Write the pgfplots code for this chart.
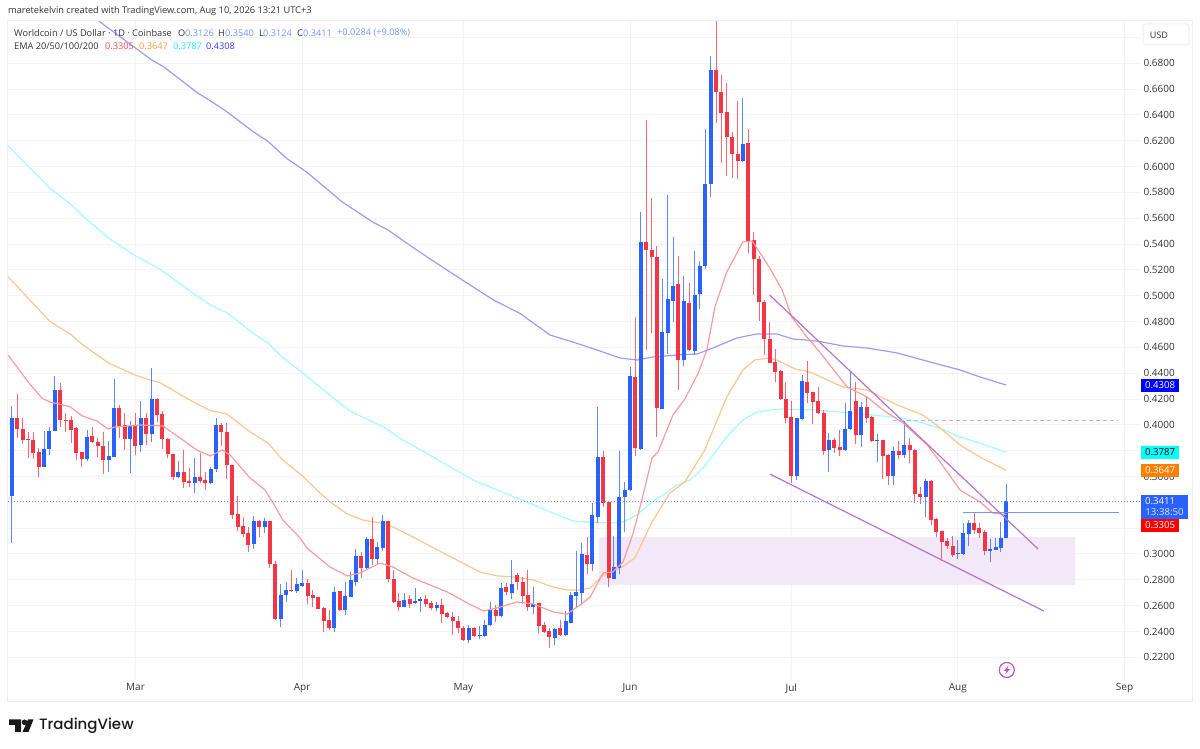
\documentclass[border=0pt]{standalone}
\usepackage{fontspec}
\setmainfont{Open Sans}
\newfontfamily\logofont{Poppins Medium}
\usepackage{pgfplots}
\usepackage{pgfplotstable}
\pgfplotsset{compat=1.18}

\definecolor{upc}{HTML}{2962FF}
\definecolor{dnc}{HTML}{F23645}
\definecolor{gridc}{HTML}{F4F4F4}
\definecolor{framec}{HTML}{EEEEEE}
\definecolor{txt}{HTML}{303338}
\definecolor{ema20}{HTML}{FB9C9C}
\definecolor{ema50}{HTML}{FFC590}
\definecolor{ema100}{HTML}{A5FBFB}
\definecolor{ema200}{HTML}{9C9CF6}
\definecolor{trend}{HTML}{B774CE}
\definecolor{zone}{HTML}{F3E8F7}
\definecolor{lvl}{HTML}{6F97FF}
\definecolor{lvlpale}{HTML}{A6C0FF}
\definecolor{tagblue}{HTML}{0000FF}
\definecolor{tagcyan}{HTML}{00FFFF}
\definecolor{tagorange}{HTML}{FF8000}
\definecolor{tagred}{HTML}{FF0000}
\definecolor{lgred}{HTML}{FF4A4A}
\definecolor{lgorange}{HTML}{FF9A40}
\definecolor{lgcyan}{HTML}{20E8FF}
\definecolor{lgblue}{HTML}{3A3AFF}
\definecolor{bolt}{HTML}{B855C8}

% day 0 = 1 March, o h l c in USD
\pgfplotstableread{
d o h l c
-23 .3452 .4146 .3082 .4051
-17 .3676 .3952 .3676 .3813
-16 .3810 .3981 .3767 .3952
-15 .3952 .4381 .3952 .4270
-9 .3736 .3960 .3720 .3903
-5 .3725 .3875 .3637 .3756
-4 .3748 .4353 .3748 .4131
-1 .3890 .4030 .3625 .3989
1 .3841 .4185 .3792 .4051
3 .3927 .4438 .3865 .4203
8 .3596 .3723 .3588 .3635
11 .3552 .3741 .3470 .3594
14 .3552 .3671 .3539 .3661
15 .3658 .4051 .3637 .3996
22 .3077 .3297 .3039 .3253
24 .3212 .3276 .3160 .3253
27 .2494 .2765 .2437 .2682
28 .2682 .2780 .2631 .2721
30 .2713 .2811 .2700 .2765
31 .2752 .2876 .2747 .2778
37 .2424 .2747 .2398 .2703
39 .2566 .2783 .2527 .2672
40 .2669 .2863 .2664 .2796
41 .2786 .3036 .2752 .2984
43 .2889 .3129 .2881 .3116
45 .2961 .3090 .2922 .3051
46 .3044 .3302 .3026 .3253
50 .2587 .2695 .2587 .2641
52 .2620 .2739 .2610 .2636
53 .2633 .2664 .2553 .2649
56 .2582 .2631 .2561 .2605
62 .2336 .2450 .2313 .2429
64 .2365 .2445 .2339 .2370
65 .2365 .2489 .2360 .2453
66 .2447 .2631 .2442 .2566
68 .2520 .2778 .2515 .2734
70 .2700 .2953 .2649 .2765
74 .2589 .2742 .2535 .2613
78 .2352 .2424 .2295 .2419
80 .2373 .2561 .2365 .2478
81 .2468 .2708 .2463 .2680
82 .2675 .3026 .2592 .2708
83 .2700 .3082 .2605 .2997
85 .2922 .3392 .2871 .3302
86 .3289 .4136 .3243 .3748
89 .2806 .3139 .2804 .2897
90 .2894 .3800 .2845 .3439
91 .3439 .3555 .3173 .3495
92 .3495 .4445 .3490 .4381
94 .3813 .5651 .3805 .5414
98 .4123 .5130 .4123 .4717
99 .4714 .5780 .4549 .4972
100 .4962 .5455 .4799 .5075
102 .4505 .5155 .4458 .4959
104 .4572 .5346 .4541 .5008
105 .5011 .5272 .4895 .5233
106 .5233 .6289 .5204 .5868
107 .5865 .6857 .5762 .6748
113 .6041 .6534 .6038 .6172
123 .3604 .4051 .3573 .4051
124 .4043 .4386 .4038 .4340
129 .3803 .3934 .3637 .3885
132 .3803 .4167 .3798 .3971
133 .3968 .4412 .3960 .4107
135 .3919 .4180 .3826 .4136
138 .3875 .3927 .3710 .3883
141 .3604 .3831 .3534 .3798
143 .3767 .4030 .3741 .3844
147 .3441 .3581 .3284 .3565
153 .2997 .3108 .2961 .3005
154 .2997 .3242 .2992 .3160
155 .3155 .3263 .3064 .3240
159 .3021 .3113 .2935 .3039
160 .3033 .3121 .3031 .3051
161 .3046 .3250 .3018 .3124
162 .3126 .3540 .3124 .3411
}\upcandles

\pgfplotstableread{
d o h l c
-24 .4076 .4076 .3452 .3452
-22 .4051 .4236 .3896 .3965
-21 .3971 .4051 .3852 .3883
-20 .3890 .3942 .3741 .3883
-19 .3880 .3942 .3736 .3785
-18 .3790 .3823 .3599 .3676
-14 .4270 .4322 .3986 .4035
-13 .4040 .4094 .3942 .4035
-12 .4038 .4071 .3857 .3963
-11 .3973 .3981 .3728 .3785
-10 .3787 .3787 .3676 .3738
-8 .3911 .3981 .3862 .3870
-7 .3867 .3896 .3748 .3834
-6 .3836 .3947 .3619 .3725
-3 .4128 .4154 .3896 .3994
-2 .3996 .4094 .3805 .3890
0 .3989 .4094 .3767 .3839
2 .4051 .4089 .3844 .3927
4 .4203 .4211 .4025 .4076
5 .4081 .4107 .3813 .3890
6 .3893 .3901 .3746 .3772
7 .3777 .3777 .3570 .3596
9 .3635 .3805 .3514 .3560
10 .3565 .3663 .3516 .3552
12 .3594 .3779 .3547 .3565
13 .3570 .3632 .3495 .3552
16 .3996 .4012 .3839 .3942
17 .3942 .4012 .3581 .3689
18 .3692 .3692 .3271 .3304
19 .3307 .3449 .3181 .3212
20 .3217 .3289 .3134 .3155
21 .3160 .3212 .3018 .3072
23 .3258 .3263 .3134 .3212
25 .3253 .3253 .2889 .2920
26 .2922 .2948 .2489 .2494
29 .2721 .2876 .2708 .2713
32 .2778 .2806 .2613 .2677
33 .2685 .2721 .2587 .2662
34 .2667 .2667 .2571 .2576
35 .2582 .2587 .2398 .2481
36 .2489 .2566 .2411 .2424
38 .2711 .2711 .2561 .2566
42 .2982 .3018 .2811 .2889
44 .3116 .3284 .2915 .2961
47 .3253 .3253 .2786 .2804
48 .2806 .2876 .2623 .2631
49 .2636 .2695 .2558 .2587
51 .2649 .2682 .2579 .2613
54 .2649 .2682 .2592 .2613
55 .2618 .2638 .2566 .2582
57 .2605 .2649 .2463 .2538
58 .2540 .2553 .2502 .2509
59 .2515 .2553 .2373 .2478
60 .2484 .2522 .2385 .2424
61 .2429 .2445 .2329 .2336
63 .2429 .2437 .2360 .2365
67 .2569 .2605 .2476 .2520
69 .2742 .2773 .2682 .2703
71 .2837 .2855 .2721 .2786
72 .2783 .2824 .2613 .2675
73 .2680 .2876 .2561 .2592
75 .2618 .2618 .2385 .2445
76 .2450 .2476 .2385 .2398
77 .2404 .2424 .2274 .2357
79 .2424 .2489 .2365 .2373
84 .2992 .3129 .2845 .2925
87 .3748 .3800 .3366 .3397
88 .3405 .3405 .2747 .2811
93 .4373 .4833 .3759 .3818
95 .5416 .6361 .4580 .5354
96 .5357 .5757 .4714 .5297
97 .5300 .5388 .3909 .4133
101 .5093 .5308 .4270 .4500
103 .4946 .5101 .4575 .4580
108 .6748 .7128 .6335 .6580
109 .6575 .6709 .6030 .6413
110 .6425 .6645 .5930 .6227
111 .6227 .6265 .5909 .6098
112 .6100 .6508 .5901 .6041
114 .6180 .6289 .5328 .5424
115 .5432 .5491 .5006 .5282
116 .5284 .5308 .4807 .4949
117 .4954 .4967 .4541 .4662
118 .4665 .4799 .4476 .4482
119 .4484 .4585 .4334 .4412
120 .4417 .4425 .4193 .4200
121 .4198 .4329 .4012 .4056
122 .4058 .4185 .3552 .3606
125 .4332 .4494 .4172 .4249
126 .4252 .4252 .4004 .4180
127 .4185 .4296 .4084 .4089
128 .4094 .4115 .3767 .3798
130 .3885 .3896 .3785 .3823
131 .3826 .3960 .3761 .3803
134 .4185 .4329 .3852 .3919
136 .4136 .4218 .4012 .4053
137 .4063 .4071 .3870 .3875
139 .3883 .3883 .3578 .3761
140 .3767 .3772 .3534 .3606
142 .3795 .3875 .3733 .3767
144 .3844 .3896 .3702 .3808
145 .3805 .3810 .3392 .3462
146 .3467 .3516 .3387 .3441
148 .3565 .3573 .3224 .3266
149 .3268 .3276 .3134 .3173
150 .3181 .3181 .2948 .3095
151 .3100 .3126 .3036 .3059
152 .3064 .3139 .2974 .2992
156 .3240 .3315 .3152 .3186
157 .3199 .3237 .3121 .3162
158 .3173 .3186 .2992 .3026
}\downcandles

\newcommand{\candles}[2]{%
  \addplot[draw=none,mark=none,forget plot,error bars/.cd,y dir=plus,y explicit,error mark=none,
    error bar style={color=#2,opacity=.75,line width=.95pt,line cap=butt}]
    table[x=d,y=l,y error plus expr=\thisrow{h}-\thisrow{l}] {#1};
  \addplot[draw=none,mark=none,forget plot,error bars/.cd,y dir=plus,y explicit,error mark=none,
    error bar style={color=#2,line width=4pt,line cap=butt}]
    table[x=d,y expr={min(\thisrow{o},\thisrow{c})},y error plus expr={abs(\thisrow{c}-\thisrow{o})}] {#1};
}

\begin{document}
\begin{tikzpicture}[x=1pt,y=1pt]
\path[use as bounding box] (0,0) rectangle (1200,749);
\begin{axis}[
  at={(8pt,69pt)},anchor=south west,
  scale only axis,width=1132pt,height=659.3pt,
  xmin=-23.72,xmax=186.88,ymin=.20241,ymax=.71299,
  axis line style={draw=none},
  major tick length=0pt,
  xtick={0,31,61,92,122,153,184},
  xticklabels={Mar,Apr,May,Jun,Jul,Aug,Sep},
  ytick={.22,.24,.26,.28,.30,.36,.40,.42,.44,.46,.48,.50,.52,.54,.56,.58,.60,.62,.64,.66,.68},
  extra y ticks={.32,.34,.38,.70},
  extra y tick labels={},
  extra y tick style={grid=major},
  yticklabel pos=right,
  yticklabel style={/pgf/number format/.cd,fixed,fixed zerofill,precision=4,assume math mode=true},
  ticklabel style={font=\fontsize{10}{12}\selectfont,text=txt},
  grid=major,
  major grid style={color=gridc,line width=1pt},
]
% demand zone
\addplot[draw=none,fill=zone,forget plot] coordinates {(86.2,.2762)(174.8,.2762)(174.8,.3132)(86.2,.3132)};

% EMA 200
\addplot[ema200,line width=1.2pt,forget plot] coordinates {(-8.5,.7190)(-6.6,.7120)(3.0,.6826)(5.2,.6774)(11.4,.6575)(13.9,.6510)(17.0,.6425)(21.9,.6270)(24.7,.6193)(28.1,.6064)(31.9,.5956)(38.4,.5728)(44.2,.5569)(47.0,.5509)(49.8,.5426)(54.8,.5285)(60.3,.5135)(66.6,.4967)(71.5,.4864)(77.1,.4696)(80.8,.4649)(86.4,.4572)(90.1,.4518)(93.3,.4502)(96.3,.4526)(100.8,.4541)(104.5,.4549)(107.4,.4595)(111.9,.4673)(115.6,.4704)(119.3,.4704)(122.3,.4665)(126.8,.4649)(131.6,.4611)(136.1,.4595)(141.7,.4557)(147.8,.4487)(153.4,.4425)(157.1,.4371)(162,.4308)};
% EMA 100
\addplot[ema100,line width=1.2pt,forget plot] coordinates {(-23.7,.6162)(-15.9,.5832)(-11.9,.5703)(-10.0,.5625)(-5.1,.5449)(-0.1,.5310)(4.6,.5205)(11.4,.4998)(14.2,.4923)(17.0,.4869)(21.9,.4709)(24.7,.4632)(27.2,.4528)(31.2,.4399)(38.4,.4154)(40.5,.4094)(46.1,.3986)(49.2,.3896)(58.5,.3676)(62.8,.3573)(67.3,.3495)(72.8,.3403)(77.7,.3317)(81.4,.3255)(84.0,.3248)(88.3,.3240)(90.7,.3248)(93.3,.3302)(96.1,.3403)(98.1,.3457)(100.8,.3534)(103.2,.3573)(105.6,.3666)(110.0,.3906)(113.0,.4038)(115.6,.4100)(118.0,.4115)(120.4,.4123)(126.8,.4115)(132.9,.4092)(137.2,.4076)(142.8,.4053)(146.5,.4014)(150.0,.3968)(153.4,.3906)(157.1,.3859)(162,.3787)};
% EMA 50
\addplot[ema50,line width=1.2pt,forget plot] coordinates {(-23.7,.5147)(-16.0,.4804)(-11.9,.4696)(-10.0,.4626)(-5.1,.4481)(-0.1,.4386)(2.1,.4355)(4.6,.4326)(9.5,.4206)(13.9,.4110)(17.0,.4084)(21.3,.3947)(24.7,.3857)(27.2,.3736)(31.2,.3599)(33.7,.3496)(36.2,.3403)(39.4,.3310)(42.3,.3263)(45.5,.3240)(47.9,.3209)(51.6,.3132)(58.0,.2992)(64.1,.2860)(67.3,.2830)(70.2,.2822)(74.0,.2799)(77.7,.2744)(80.3,.2721)(82.7,.2721)(84.6,.2737)(87.0,.2837)(88.8,.2860)(91.1,.2915)(92.9,.2969)(96.1,.3248)(99.4,.3472)(102.2,.3557)(105.9,.3805)(110.0,.4216)(113.0,.4425)(115.2,.4502)(118.0,.4518)(119.3,.4502)(122.7,.4433)(125.5,.4409)(131.6,.4293)(136.1,.4270)(141.7,.4154)(146.5,.4076)(149.7,.3976)(153.4,.3844)(157.1,.3751)(162,.3647)};

\candles{\upcandles}{upc}
\candles{\downcandles}{dnc}

% EMA 20
\addplot[ema20,line width=1.2pt,forget plot] coordinates {(-23.7,.4541)(-20.0,.4334)(-17.4,.4206)(-15.9,.4177)(-12.2,.4141)(-10.0,.4071)(-7.2,.4030)(-5.1,.3968)(-3.8,.3983)(0.8,.3999)(5.1,.3991)(8.3,.3898)(11.4,.3805)(13.9,.3759)(16.1,.3805)(17.6,.3767)(21.3,.3589)(24.1,.3495)(25.6,.3395)(27.4,.3263)(30.6,.3124)(31.9,.3046)(36.2,.2899)(39.4,.2830)(41.8,.2853)(45.5,.2930)(47.9,.2899)(51.6,.2814)(58.0,.2706)(61.7,.2621)(64.7,.2559)(67.3,.2582)(71.0,.2628)(74.0,.2613)(77.7,.2551)(80.3,.2535)(82.7,.2605)(84.6,.2667)(87.0,.2853)(88.8,.2861)(90.7,.2938)(92.6,.3163)(94.2,.3418)(96.1,.3743)(97.2,.3790)(100.0,.4076)(102.2,.4200)(104.7,.4402)(106.3,.4580)(107.8,.4913)(110.0,.5184)(113.0,.5416)(114.7,.5424)(116.7,.5300)(118.0,.5215)(120.3,.5045)(122.1,.4835)(124.9,.4681)(127.3,.4564)(132.4,.4293)(136.1,.4216)(139.1,.4115)(142.8,.4014)(147.3,.3844)(149.7,.3712)(153.4,.3495)(157.1,.3403)(159.5,.3317)(162,.3305)};

% trend lines and levels
\addplot[trend,line width=1.2pt,forget plot] coordinates {(118.0,.5005)(167.9,.3039)};
\addplot[trend,line width=1.2pt,forget plot] coordinates {(118.0,.3619)(169.0,.2558)};
\addplot[lvlpale,line width=1pt,dash pattern=on 4pt off 3pt,forget plot] coordinates {(140.9,.4032)(182.8,.4032)};
\addplot[lvl,line width=1pt,forget plot] coordinates {(154.0,.3323)(183.0,.3323)};
\addplot[lvl,line width=.8pt,dash pattern=on 1pt off 2pt,forget plot] coordinates {(-23.72,.3411)(186.88,.3411)};
\end{axis}

% chrome, in image pixels measured from the top left
\begin{scope}[shift={(0,749)},y=-1pt,x=1pt]
\draw[framec,line width=1pt] (7.5,20.7) rectangle (1192,701.5);
\fontsize{9.25}{11}\selectfont
\node[anchor=west,inner sep=0,text=txt] at (8,11.5) {maretekelvin created with TradingView.com, Aug 10, 2026 13:21 UTC+3};
\fontsize{9.2}{11}\selectfont
\node[anchor=west,inner sep=0,text=txt] at (14,33) {Worldcoin / US Dollar · 1D · Coinbase};
\foreach \lx/\vx/\ll/\vv in {178/185/O/0.3126,218/225/H/0.3540,259/263/L/0.3124,297/303/C/0.3411}{
  \node[anchor=west,inner sep=0,text=txt] at (\lx,33) {\ll};
  \node[anchor=west,inner sep=0,text=lvl] at (\vx,33) {\vv};
}
\node[anchor=west,inner sep=0,text=lvl] at (337,33) {+0.0284 (+9.08\%)};
\node[anchor=west,inner sep=0,text=txt] at (14,46) {EMA 20/50/100/200};
\node[anchor=west,inner sep=0,text=lgred] at (105,46) {0.3305};
\node[anchor=west,inner sep=0,text=lgorange] at (139,46) {0.3647};
\node[anchor=west,inner sep=0,text=lgcyan] at (173,46) {0.3787};
\node[anchor=west,inner sep=0,text=lgblue] at (206,46) {0.4308};

% USD button
\draw[framec,line width=1pt,fill=white,rounded corners=3pt] (1143,24) rectangle (1189,45);
\node[text=txt,inner sep=0] at (1159,35) {\fontsize{9}{11}\selectfont USD};

% price tags
\fontsize{9.6}{11}\selectfont
\fill[tagblue] (1141,379) rectangle (1179,392);
\node[text=white,inner sep=0] at (1160,385.5) {0.4308};
\fill[tagcyan] (1141,446) rectangle (1179,459);
\node[text=black,inner sep=0] at (1160,452.5) {0.3787};
\fill[tagorange] (1141,464) rectangle (1179,477);
\node[text=white,inner sep=0] at (1160,470.5) {0.3647};
\fill[upc] (1141,495) rectangle (1188,519);
\node[text=white,inner sep=0] at (1160,501.5) {0.3411};
\node[text=white!85!upc,inner sep=0] at (1164.5,512.5) {13:38:50};
\fill[tagred] (1141,519) rectangle (1179,532);
\node[text=white,inner sep=0] at (1160,525.5) {0.3305};

% event marker
\draw[color=bolt,line width=1.2pt] (1006.8,670) circle (7.5);
\fill[color=bolt] (1008.5,665.5) -- (1004,670.8) -- (1006.6,670.8) -- (1005.2,674.5) -- (1009.8,669.2) -- (1007.2,669.2) -- cycle;

% logo
\fill[black!90] (9,719.5) -- (21,719.5) -- (21,732) -- (15,732) -- (15,725) -- (9,725) -- cycle;
\fill[black!90] (24.5,722.3) circle (2.8);
\fill[black!90] (28,719.5) -- (33.5,719.5) -- (28.5,732) -- (22.5,732) -- cycle;
\node[anchor=west,inner sep=0,text=black!90] at (39,725.5) {\logofont\fontsize{15}{18}\selectfont TradingView};
\end{scope}
\end{tikzpicture}
\end{document}
